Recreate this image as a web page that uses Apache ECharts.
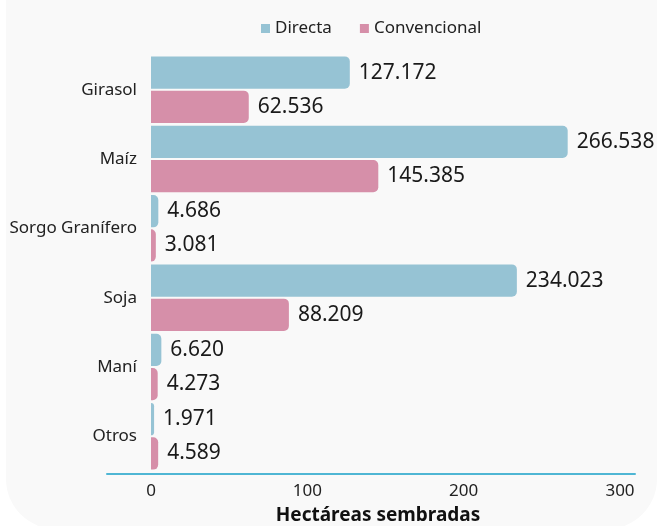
<!DOCTYPE html>
<html>
<head>
<meta charset="utf-8">
<script src="https://cdn.jsdelivr.net/npm/echarts@6/dist/echarts.min.js"></script>
<style>
  html, body { margin: 0; padding: 0; background: #ffffff; }
  #wrap { position: relative; width: 663px; height: 526px; overflow: hidden; }
  /* tarjeta gris de fondo */
  #panel { position: absolute; left: 6px; top: -60px; width: 651px; height: 589px;
           background: #f9f9f9; border-radius: 50px; }
  #main { position: absolute; left: 0; top: 0; width: 663px; height: 526px; }
</style>
</head>
<body>
<div id="wrap">
  <div id="panel"></div>
  <div id="main"></div>
</div>
<script>
// datos (miles de hectáreas)
var cultivos = ['Girasol', 'Maíz', 'Sorgo Granífero', 'Soja', 'Maní', 'Otros'];
var directa = [127.172, 266.538, 4.686, 234.023, 6.620, 1.971];
var convencional = [62.536, 145.385, 3.081, 88.209, 4.273, 4.589];
var ticksX = [0, 100, 200, 300];

var fuente = '"Noto Sans", "DejaVu Sans", sans-serif';

function etiqueta(p) {
  return p.value.toFixed(3);
}

var chart = echarts.init(document.getElementById('main'));
chart.setOption({
  backgroundColor: 'transparent',
  textStyle: { fontFamily: fuente },
  legend: {
    top: 15,
    left: 256,
    itemWidth: 9,
    itemHeight: 9,
    itemGap: 28,
    icon: 'rect',
    textStyle: { fontSize: 17, color: '#222', fontFamily: fuente },
    data: ['Directa', 'Convencional']
  },
  grid: [
    { left: 151, right: 43, top: 55, bottom: 55, outerBoundsMode: 'none' },
    // solo para la línea del eje, que es más ancha que el área de datos
    { left: 107, right: 28, top: 55, bottom: 52, outerBoundsMode: 'none' }
  ],
  xAxis: [
    {
      type: 'value',
      gridIndex: 0,
      min: ticksX[0],
      max: ticksX[ticksX.length - 1],
      interval: 100,
      axisLine: { show: false },
      axisTick: { show: false },
      splitLine: { show: false },
      axisLabel: { fontSize: 17, color: '#222', margin: 12, fontFamily: fuente }
    },
    {
      type: 'value',
      gridIndex: 1,
      min: 0,
      max: 1,
      axisLine: { show: true, onZero: false, lineStyle: { color: '#4fb6d4', width: 2 } },
      axisTick: { show: false },
      splitLine: { show: false },
      axisLabel: { show: false },
      name: 'Hectáreas sembradas',
      nameLocation: 'middle',
      nameGap: 32,
      nameTextStyle: { fontSize: 19, fontWeight: 'bold', color: '#111', padding: [0, 0, 0, 14], fontFamily: fuente }
    }
  ],
  yAxis: [
    {
      type: 'category',
      gridIndex: 0,
      inverse: true,
      data: cultivos,
      axisLine: { show: false },
      axisTick: { show: false },
      axisLabel: { fontSize: 17, color: '#222', margin: 14, fontFamily: fuente }
    },
    {
      type: 'category',
      gridIndex: 1,
      show: false,
      data: cultivos
    }
  ],
  series: [
    {
      name: 'Directa',
      type: 'bar',
      data: directa,
      barCategoryGap: '4%',
      barGap: '6%',
      itemStyle: { color: '#96c3d4', borderRadius: [0, 5, 5, 0] },
      label: { show: true, position: 'right', distance: 9, formatter: etiqueta,
               fontSize: 21, color: '#1a1a1a', fontFamily: fuente }
    },
    {
      name: 'Convencional',
      type: 'bar',
      data: convencional,
      barCategoryGap: '4%',
      barGap: '6%',
      itemStyle: { color: '#d68fa9', borderRadius: [0, 5, 5, 0] },
      label: { show: true, position: 'right', distance: 9, formatter: etiqueta,
               fontSize: 21, color: '#1a1a1a', fontFamily: fuente }
    }
  ]
});
</script>
</body>
</html>
